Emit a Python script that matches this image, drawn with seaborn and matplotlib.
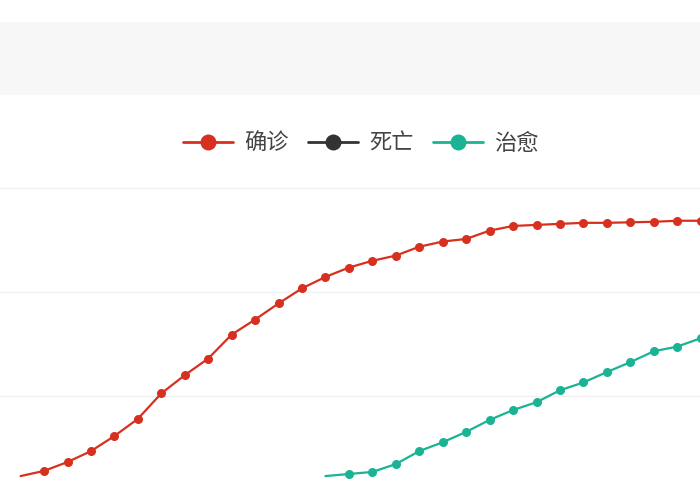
import pandas as pd
import matplotlib.pyplot as plt
import seaborn as sns
from matplotlib.lines import Line2D
from matplotlib.patches import Rectangle

# dados (dia -> valor); NaN = sem dado
dias = list(range(30))
confirmados = [24600, 25600, 27300, 29400, 32300, 35600, 40500, 44000, 47200, 51800,
               54700, 57800, 60700, 62900, 64700, 66000, 67000, 68700, 69700, 70200,
               71800, 72700, 72900, 73100, 73300, 73300, 73400, 73500, 73700, 73700]
mortes = [100, 130, 170, 210, 260, 310, 360, 430, 490, 560,
          640, 720, 810, 910, 1020, 1110, 1260, 1380, 1520, 1660,
          1770, 1870, 2000, 2120, 2240, 2340, 2440, 2590, 2660, 2720]
curados = [None] * 13 + [24600, 25000, 25400, 26900, 29400, 31100, 33100, 35400, 37300,
                         38800, 41100, 42600, 44600, 46500, 48600, 49500, 51100]
series = ["确诊", "死亡", "治愈"]
cores = {"确诊": "#d7301f", "死亡": "#333333", "治愈": "#1ab394"}

df = pd.concat([
    pd.DataFrame({"dia": dias, "valor": confirmados, "tipo": "确诊"}),
    pd.DataFrame({"dia": dias, "valor": mortes, "tipo": "死亡"}),
    pd.DataFrame({"dia": dias, "valor": curados, "tipo": "治愈"}),
]).dropna()

sns.set_style("white")
plt.rcParams["font.family"] = ["Noto Sans CJK SC", "DejaVu Sans"]

fig = plt.figure(figsize=(7, 5), dpi=100)
# faixa cinza do topo
fig.patches.append(Rectangle((0, 1 - 95 / 500), 1, 73 / 500, transform=fig.transFigure,
                             facecolor="#f7f7f7", edgecolor="none", zorder=0))

ax = fig.add_axes([0, 0, 1, 1 - 186 / 500])
sns.lineplot(data=df, x="dia", y="valor", hue="tipo", hue_order=series, palette=cores,
             marker="o", markersize=6.5, markeredgewidth=0, linewidth=1.6,
             legend=False, ax=ax)
for ln in ax.lines:
    ln.set_markevery(slice(1, None))

# escala: 20000 por linha de grade, 104.4 px
px = 20000 / 104.4
ax.set_ylim(80000 - 312 * px, 80000 + 2 * px)
ax.set_xlim(-20.6 / 23.45, (700 - 20.6) / 23.45)
ax.set_yticks([20000, 40000, 60000, 80000])
ax.grid(axis="y", color="#f0f0f0", linewidth=1)
ax.set_xticks([])
ax.tick_params(left=False, labelleft=False)
ax.set_xlabel("")
ax.set_ylabel("")
for s in ax.spines.values():
    s.set_visible(False)

handles = [Line2D([], [], color=cores[s], marker="o", markersize=11.5, linewidth=2,
                  markeredgewidth=0) for s in series]
fig.legend(handles, series, loc="center", bbox_to_anchor=(361 / 700, 1 - 143 / 500),
           ncol=3, frameon=False, fontsize=16, handlelength=2.25, handletextpad=0.5,
           columnspacing=0.86, labelcolor="#444444")

fig.savefig("out.png", dpi=100)
